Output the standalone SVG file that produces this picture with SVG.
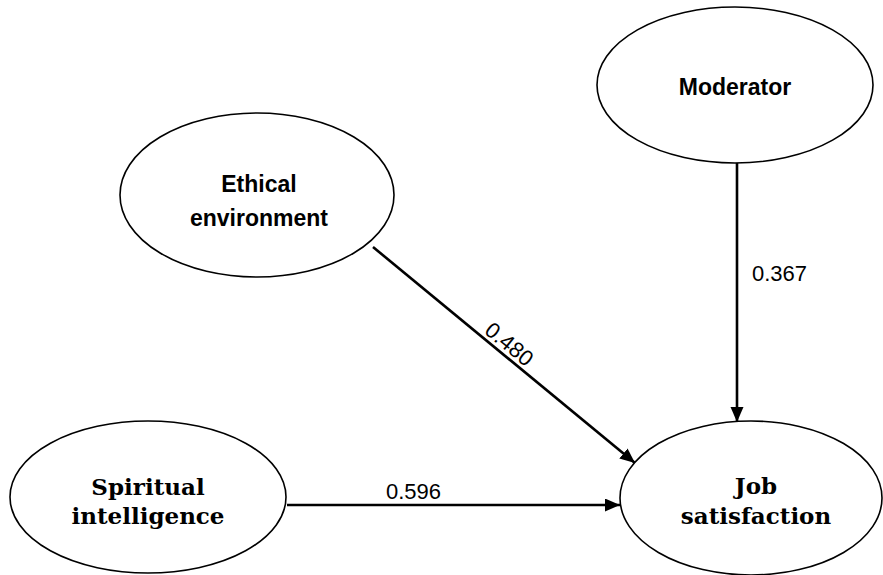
<svg xmlns="http://www.w3.org/2000/svg" width="883" height="575" viewBox="0 0 883 575">
<defs>
<style>
.node ellipse{fill:#fff;stroke:#000;stroke-width:1.6}
.sans{font-family:"Liberation Sans",Arial,sans-serif;font-weight:bold;font-size:23px;text-anchor:middle;fill:#000}
.serif{font-family:"DejaVu Serif","Liberation Serif",serif;font-weight:bold;font-size:23px;text-anchor:middle;fill:#000}
.edge{stroke:#000;stroke-width:2.6;fill:none;marker-end:url(#arr)}
.lbl{font-family:"Liberation Sans",Arial,sans-serif;font-size:22px;fill:#000}
</style>
<marker id="arr" markerUnits="userSpaceOnUse" markerWidth="16" markerHeight="14" refX="15" refY="6.5" orient="auto">
<path d="M0,0 L15,6.5 L0,13 z" fill="#000"/>
</marker>
</defs>
<g id="connectors">
<line class="edge" x1="737" y1="163" x2="737" y2="422"/>
<line class="edge" x1="373" y1="247" x2="635" y2="463"/>
<line class="edge" x1="287" y1="505" x2="620" y2="505"/>
<text class="lbl" x="752" y="281">0.367</text>
<text class="lbl" x="386" y="499">0.596</text>
<text class="lbl" transform="translate(502,353) rotate(39.5)" x="0" y="-4" text-anchor="middle">0.480</text>
</g>
<g id="node-moderator" class="node">
<ellipse cx="735" cy="85" rx="138" ry="78"/>
<text class="sans" x="735" y="95">Moderator</text>
</g>
<g id="node-ethical" class="node">
<ellipse cx="257" cy="195" rx="137" ry="82"/>
<text class="sans" x="259" y="192">Ethical</text>
<text class="sans" x="259" y="226">environment</text>
</g>
<g id="node-spiritual" class="node">
<ellipse cx="148" cy="497" rx="138" ry="76"/>
<text class="serif" x="148" y="495">Spiritual</text>
<text class="serif" x="148" y="524">intelligence</text>
</g>
<g id="node-job" class="node">
<ellipse cx="751" cy="498" rx="131" ry="77"/>
<text class="serif" x="756" y="494">Job</text>
<text class="serif" x="756" y="524">satisfaction</text>
</g>
</svg>
